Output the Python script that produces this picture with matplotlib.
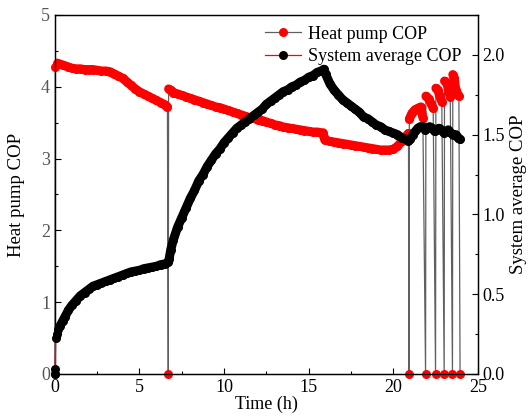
import matplotlib
matplotlib.use("Agg")
import matplotlib.pyplot as plt
from matplotlib.lines import Line2D
from matplotlib.ticker import MultipleLocator

# ── Data ──────────────────────────────────────────────────────────────────────
# heat pump COP (left axis); zeros are the off periods
hp_time = [
    0.0, 0.02, 0.12, 0.25, 0.5, 0.75, 1.0, 1.25, 1.5, 1.75, 2.0, 2.25, 2.5,
    2.75, 3.0, 3.25, 3.5, 3.75, 4.0, 4.25, 4.5, 4.75, 5.0, 5.25, 5.5, 5.75,
    6.0, 6.25, 6.5, 6.65, 6.7,
    6.72, 6.85, 7.0, 7.25, 7.5, 7.75, 8.0, 8.25, 8.5, 8.75, 9.0, 9.25, 9.5,
    9.75, 10.0, 10.25, 10.5, 10.75, 11.0, 11.25, 11.5, 11.75, 12.0, 12.25,
    12.5, 12.75, 13.0, 13.25, 13.5, 13.75, 14.0, 14.25, 14.5, 14.75, 15.0,
    15.25, 15.5, 15.75, 15.85, 15.9, 15.95, 16.25, 16.5, 16.75, 17.0, 17.25,
    17.5, 17.75, 18.0, 18.25, 18.5, 18.75, 19.0, 19.25, 19.5, 19.75, 20.0,
    20.25, 20.5, 20.75, 20.9, 20.93,
    20.95, 21.1, 21.28, 21.45, 21.63, 21.75, 21.91,
    21.93, 22.1, 22.25, 22.36, 22.5,
    22.52, 22.64, 22.75, 22.87, 23.01,
    23.03, 23.17, 23.3, 23.37, 23.5,
    23.52, 23.6, 23.7, 23.88, 23.95,
]
hp_cop = [
    0.0, 4.27, 4.33, 4.32, 4.30, 4.28, 4.26, 4.25, 4.25, 4.24, 4.24, 4.24,
    4.23, 4.22, 4.22, 4.21, 4.18, 4.15, 4.12, 4.07, 4.02, 3.97, 3.93, 3.90,
    3.87, 3.84, 3.81, 3.78, 3.75, 3.72, 0.0,
    3.97, 3.95, 3.92, 3.90, 3.88, 3.86, 3.84, 3.82, 3.80, 3.78, 3.76, 3.74,
    3.72, 3.71, 3.69, 3.67, 3.65, 3.63, 3.61, 3.59, 3.57, 3.56, 3.54, 3.53,
    3.51, 3.49, 3.47, 3.46, 3.44, 3.43, 3.42, 3.41, 3.40, 3.39, 3.38, 3.37,
    3.37, 3.36, 3.36, 3.30, 3.26, 3.24, 3.23, 3.22, 3.21, 3.20, 3.19, 3.18,
    3.17, 3.16, 3.15, 3.14, 3.13, 3.12, 3.12, 3.12, 3.13, 3.17, 3.24, 3.31,
    3.35, 0.0,
    3.55, 3.63, 3.68, 3.70, 3.72, 3.57, 0.0,
    3.87, 3.83, 3.76, 3.70, 0.0,
    3.98, 3.95, 3.87, 3.79, 0.0,
    4.08, 4.05, 3.92, 3.86, 0.0,
    4.17, 4.12, 3.95, 3.87, 0.0,
]

# system average COP (right axis)
sys_time = [
    0.0, 0.01, 0.05, 0.1, 0.2, 0.3, 0.45, 0.6, 0.8, 1.0, 1.25, 1.5, 1.75,
    2.0, 2.25, 2.5, 2.75, 3.0, 3.25, 3.5, 3.75, 4.0, 4.25, 4.5, 4.75, 5.0,
    5.25, 5.5, 5.75, 6.0, 6.25, 6.5, 6.7,
    6.75, 6.85, 7.0, 7.25, 7.5, 7.75, 8.0, 8.25, 8.5, 8.75, 9.0, 9.25, 9.5,
    9.75, 10.0, 10.25, 10.5, 10.75, 11.0, 11.25, 11.5, 11.75, 12.0, 12.25,
    12.5, 12.75, 13.0, 13.25, 13.5, 13.75, 14.0, 14.25, 14.5, 14.75, 15.0,
    15.25, 15.5, 15.75, 15.9,
    16.0, 16.25, 16.5, 16.75, 17.0, 17.25, 17.5, 17.75, 18.0, 18.25, 18.5,
    18.75, 19.0, 19.25, 19.5, 19.75, 20.0, 20.25, 20.5, 20.75, 20.9,
    21.0, 21.15, 21.3, 21.45, 21.6, 21.75, 21.9, 22.0, 22.15, 22.3, 22.45,
    22.55, 22.7, 22.85, 23.0, 23.1, 23.25, 23.4, 23.55, 23.7, 23.85, 23.95,
]
sys_cop = [
    0.0, 0.03, 0.225, 0.25, 0.28, 0.30, 0.33, 0.36, 0.40, 0.43, 0.46, 0.49,
    0.51, 0.53, 0.55, 0.56, 0.57, 0.58, 0.59, 0.60, 0.61, 0.62, 0.63, 0.64,
    0.645, 0.65, 0.66, 0.665, 0.67, 0.675, 0.685, 0.69, 0.70,
    0.72, 0.78, 0.84, 0.92, 0.98, 1.04, 1.10, 1.15, 1.21, 1.25, 1.30, 1.34,
    1.38, 1.41, 1.45, 1.48, 1.51, 1.54, 1.56, 1.58, 1.60, 1.62, 1.64, 1.66,
    1.69, 1.71, 1.73, 1.75, 1.77, 1.78, 1.80, 1.81, 1.83, 1.84, 1.86, 1.87,
    1.89, 1.90, 1.91,
    1.88, 1.82, 1.78, 1.75, 1.72, 1.70, 1.68, 1.66, 1.64, 1.61, 1.60, 1.58,
    1.56, 1.55, 1.53, 1.52, 1.51, 1.50, 1.48, 1.47, 1.46,
    1.47, 1.50, 1.52, 1.54, 1.55, 1.55, 1.53, 1.54, 1.55, 1.54, 1.52,
    1.53, 1.54, 1.53, 1.51, 1.52, 1.53, 1.51, 1.50, 1.50, 1.48, 1.47,
]

assert len(hp_time) == len(hp_cop)
assert len(sys_time) == len(sys_cop)


def runs(t, v, floor=0.1):
    """Split a series into runs of consecutive points above `floor`."""
    out, cur = [], []
    for ti, vi in zip(t, v):
        if vi > floor:
            cur.append((ti, vi))
        elif cur:
            out.append(cur)
            cur = []
    if cur:
        out.append(cur)
    return out


# ── Plot ──────────────────────────────────────────────────────────────────────
plt.rcParams['font.family'] = ['Liberation Serif', 'DejaVu Serif']

fig = plt.figure(figsize=(5.28, 4.16), dpi=100)
ax = fig.add_axes([0.104, 0.101, 0.801, 0.863])
ax2 = ax.twinx()

ms = 6.5
ax.plot(hp_time, hp_cop, color='#606060', lw=0.9, marker='o', ms=ms,
        mfc='red', mec='red', mew=0, clip_on=False, zorder=3)
ax2.plot(sys_time, sys_cop, color='red', lw=0.9, marker='o', ms=ms,
         mfc='black', mec='black', mew=0, clip_on=False, zorder=3)

# densely packed markers in the original read as a solid band
for seg in runs(hp_time, hp_cop):
    st, sv = zip(*seg)
    ax.plot(st, sv, color='red', lw=ms, solid_capstyle='round',
            solid_joinstyle='round', zorder=4)
for seg in runs(sys_time, sys_cop):
    st, sv = zip(*seg)
    ax2.plot(st, sv, color='black', lw=ms, solid_capstyle='round',
             solid_joinstyle='round', zorder=4)

ax.set_xlim(0, 25)
ax.set_ylim(0, 5)
ax2.set_ylim(0, 2.25)

ax.xaxis.set_major_locator(MultipleLocator(5))
ax.xaxis.set_minor_locator(MultipleLocator(2.5))
ax.yaxis.set_major_locator(MultipleLocator(1))
ax.yaxis.set_minor_locator(MultipleLocator(0.5))
ax2.set_yticks([0, 0.5, 1.0, 1.5, 2.0])
ax2.set_yticklabels(['0.0', '0.5', '1.0', '1.5', '2.0'])
ax2.yaxis.set_minor_locator(MultipleLocator(0.25))

fs = 13
ax.tick_params(which='both', direction='in', top=False, right=False,
               labelsize=fs, width=0.8)
ax.tick_params(which='major', length=4.5)
ax.tick_params(which='minor', length=2.5)
ax.tick_params(axis='y', labelcolor='#555555')
ax2.tick_params(which='both', direction='in', left=False, labelsize=fs,
                width=0.8)
ax2.tick_params(which='major', length=4.5)
ax2.tick_params(which='minor', length=2.5)

for a in (ax, ax2):
    for s in a.spines.values():
        s.set_linewidth(0.9)

ax.set_xlabel('Time (h)', fontsize=fs, labelpad=0)
ax.set_ylabel('Heat pump COP', fontsize=13.5)
ax2.set_ylabel('System average COP', fontsize=13.5)
ax.yaxis.set_label_coords(-0.071, 0.5)
ax2.yaxis.set_label_coords(1.077, 0.5)

handles = [
    Line2D([], [], color='#606060', lw=0.9, marker='o', ms=ms, mfc='red',
           mec='red', mew=0),
    Line2D([], [], color='red', lw=0.9, marker='o', ms=ms, mfc='black',
           mec='black', mew=0),
]
ax2.legend(handles, ['Heat pump COP', 'System average COP'], frameon=False,
           loc='upper left', bbox_to_anchor=(0.47, 1.0), fontsize=fs,
           handlelength=2.0, handletextpad=0.4, labelspacing=0.3,
           borderaxespad=0.2)

fig.savefig('out.png', dpi=100)
